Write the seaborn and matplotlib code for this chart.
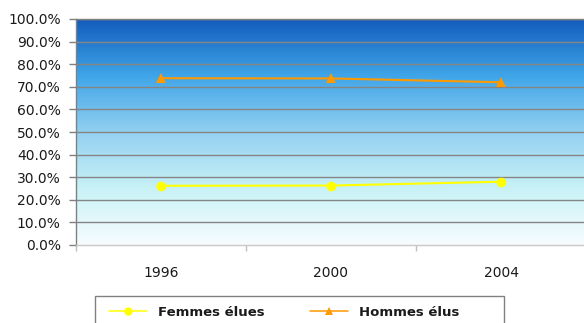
import numpy as np
import pandas as pd
import matplotlib
matplotlib.use("Agg")
import matplotlib.pyplot as plt
from matplotlib.colors import LinearSegmentedColormap
from matplotlib.lines import Line2D
from matplotlib.patches import Rectangle
import seaborn as sns

# Share of seats by gender, per election year
years = ["1996", "2000", "2004"]
femmes = [0.262, 0.263, 0.280]
hommes = [0.738, 0.737, 0.720]
series_names = ["Femmes élues", "Hommes élus"]
y_ticks = [i / 10 for i in range(11)]

df = pd.DataFrame({
    "year": years * 2,
    "share": femmes + hommes,
    "serie": [series_names[0]] * 3 + [series_names[1]] * 3,
})

sns.set_theme(style="white")
plt.rcParams["font.family"] = ["DejaVu Sans"]

fig = plt.figure(figsize=(5.84, 3.23), dpi=100)
ax = fig.add_axes([76 / 584, 1 - 245 / 323, 510 / 584, 226 / 323])

# vertical gradient background of the plotting area
grad_cmap = LinearSegmentedColormap.from_list(
    "sky",
    [(0.0, "#f7fcfe"), (0.25, "#c8f2f6"), (0.5, "#93d0f1"),
     (0.75, "#3fa5e8"), (1.0, "#135cbb")],
)
grad = np.linspace(0, 1, 256).reshape(-1, 1)
ax.imshow(grad, cmap=grad_cmap, origin="lower", aspect="auto",
          extent=(-0.5, 2.5, 0, 1), zorder=0)

palette = {series_names[0]: "#ffff00", series_names[1]: "#ff9900"}
markers = {series_names[0]: "o", series_names[1]: "^"}
sns.lineplot(data=df, x="year", y="share", hue="serie", style="serie",
             palette=palette, markers=markers, dashes=False, lw=1.5,
             markersize=7, markeredgewidth=0, ax=ax, legend=False, zorder=3)

ax.set_xlim(-0.5, 2.5)
ax.set_ylim(0, 1)
ax.set_yticks(y_ticks)
ax.set_yticklabels([f"{v * 100:.1f}%" for v in y_ticks])
ax.set_xticks(range(len(years)))
ax.set_xticklabels(years)
ax.set_xticks([-0.5, 0.5, 1.5, 2.5], minor=True)
ax.set_xlabel("")
ax.set_ylabel("")

for y in y_ticks[1:]:
    ax.axhline(y, color="#858585", lw=1, zorder=1, snap=True)

ax.tick_params(axis="y", which="major", direction="out", length=5, width=1,
               color="#808080", pad=6, labelsize=10, labelcolor="#1a1a1a",
               left=True)
ax.tick_params(axis="x", which="major", length=0, pad=15, labelsize=10,
               labelcolor="#1a1a1a")
ax.tick_params(axis="x", which="minor", direction="out", length=4, width=1,
               color="#c0c0c0", bottom=True)

ax.spines["left"].set_color("#808080")
ax.spines["top"].set_color("#808080")
ax.spines["bottom"].set_color("#c8c8c8")
ax.spines["right"].set_visible(False)
for s in ax.spines.values():
    s.set_linewidth(1)

# legend frame and entries
fig.patches.append(Rectangle((95 / 584, -0.05), 409 / 584, 0.05 + 1 - 296 / 323,
                             transform=fig.transFigure, facecolor="white",
                             edgecolor="#808080", lw=1))
handles = [
    Line2D([], [], color=palette[n], marker=markers[n], markersize=6,
           markeredgewidth=0, lw=1.1)
    for n in series_names
]
leg = fig.legend(handles, series_names, loc="center left",
                 bbox_to_anchor=(109 / 584, 1 - 312 / 323), ncol=2,
                 frameon=False, borderpad=0, borderaxespad=0,
                 handlelength=2.9, handletextpad=0.83,
                 columnspacing=3.4, prop={"weight": "bold", "size": 9.5})
for t in leg.get_texts():
    t.set_color("#1a1a1a")

fig.savefig("out.png", dpi=100)
